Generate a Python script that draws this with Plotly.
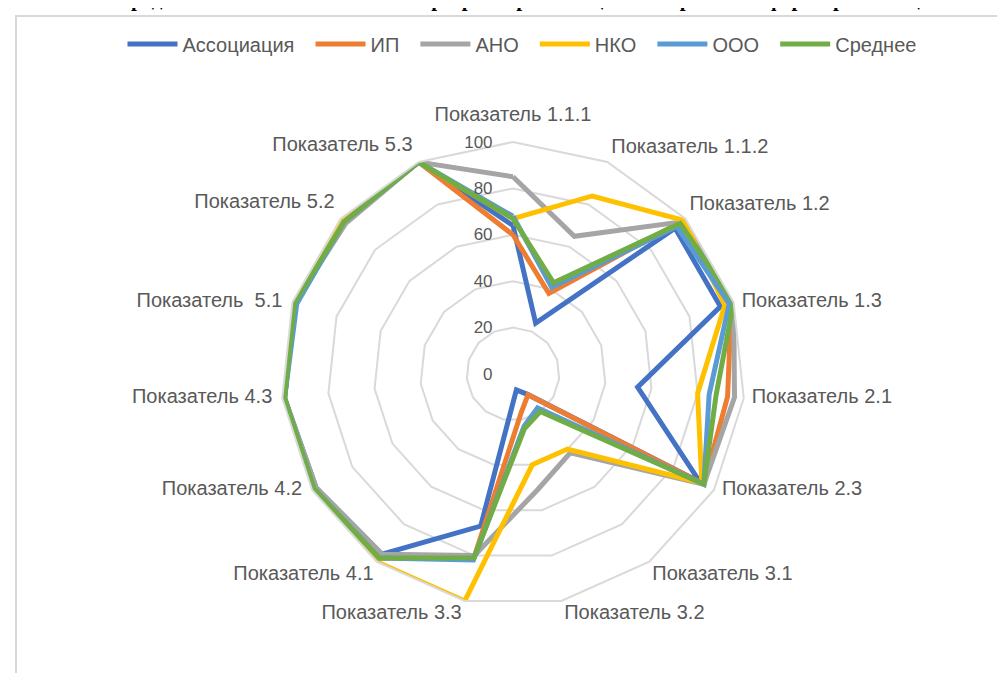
import plotly.graph_objects as go

categories = ["Показатель 1.1.1", "Показатель 1.1.2", "Показатель 1.2", "Показатель 1.3",
              "Показатель 2.1", "Показатель 2.3", "Показатель 3.1", "Показатель 3.2",
              "Показатель 3.3", "Показатель 4.1", "Показатель 4.2", "Показатель 4.3",
              "Показатель\u00a0 5.1", "Показатель 5.2", "Показатель 5.3"]

assoc = [64, 24, 94, 94, 54, 93, 11, 7, 67, 96, 98, 99, 99, 98, 100]
ip    = [60, 38, 99, 99, 93, 95, 11, 17, 81, 98, 99, 99, 99, 98, 100]
ano   = [85, 65, 98, 100, 96, 95, 42, 51, 80, 96, 98, 99, 99, 97, 100]
nko   = [67, 84, 99, 96, 80, 94, 40, 40, 100, 100, 100, 100, 100, 100, 100]
ooo   = [68, 41, 95, 98, 85, 95, 18, 23, 82, 98, 99, 99, 98, 98, 100]
avg   = [67, 43, 97, 100, 88, 95, 20, 24, 81, 98, 99, 99, 99, 98, 100]

series = [("Ассоциация", assoc, "#4472C4"), ("ИП", ip, "#ED7D31"), ("АНО", ano, "#A5A5A5"),
          ("НКО", nko, "#FFC000"), ("ООО", ooo, "#5B9BD5"), ("Среднее", avg, "#70AD47")]

radial_ticks = [0, 20, 40, 60, 80, 100]
RMAX = 100

PAD = "\u00a0\u00a0"
fig = go.Figure()
for i, (name, vals, color) in enumerate(series):
    fig.add_trace(go.Scatterpolar(
        r=vals + [vals[0]], theta=categories + [categories[0]],
        mode="lines", name=name + (PAD if i < len(series) - 1 else ""),
        line=dict(color=color, width=5, shape="linear"),
    ))

# Category labels placed Excel-style next to the outer vertices
n = len(categories)
def label_pos(k):
    a = 360.0 * k / n
    if a == 0:
        return "top center"
    if a < 60:
        return "top right"
    if a < 135:
        return "middle right"
    if a < 180:
        return "bottom right"
    if a <= 225:
        return "bottom left"
    if a < 300:
        return "middle left"
    return "top left"

# label gap (px) from the outer vertex, per placement
label_gap = {"top center": 16, "top right": 4, "top left": 6, "middle right": 8,
             "middle left": 10, "bottom right": 3, "bottom left": 3}
positions = [label_pos(k) for k in range(n)]
gap_sizes = [(label_gap[p] - 1) * 1.6 for p in positions]

fig.add_trace(go.Scatterpolar(
    r=[RMAX] * n, theta=categories, mode="markers+text", text=categories,
    textposition=positions,
    marker=dict(size=gap_sizes, opacity=0, color="white"),
    textfont=dict(size=20, color="#595959", family="Liberation Sans, Arial, sans-serif"),
    showlegend=False, hoverinfo="skip", cliponaxis=False,
))

W, H = 1005, 673
cx, cy, R = 505, 366, 232
fig.update_layout(
    width=W, height=H,
    margin=dict(l=0, r=0, t=0, b=0),
    paper_bgcolor="white", plot_bgcolor="white",
    font=dict(family="Liberation Sans, Arial, sans-serif", color="#595959", size=18),
    polar=dict(
        domain=dict(x=[(cx - R) / W, (cx + R) / W], y=[1 - (cy + R) / H, 1 - (cy - R) / H]),
        bgcolor="white",
        gridshape="linear",
        angularaxis=dict(rotation=90, direction="clockwise", showgrid=False,
                         showline=True, linecolor="#d9d9d9", linewidth=2,
                         ticks="", showticklabels=False),
        radialaxis=dict(range=[0, RMAX], tickvals=radial_ticks, angle=90, tickangle=90,
                        showline=False, ticks="outside", ticklen=14, tickcolor="rgba(0,0,0,0)",
                        gridcolor="#d9d9d9", gridwidth=2,
                        tickfont=dict(size=17, color="#595959"), side="counterclockwise"),
    ),
    legend=dict(orientation="h", x=514 / W, xanchor="center", y=1 - 36 / H, yanchor="middle",
                font=dict(size=20, color="#595959"), itemwidth=50, tracegroupgap=0),
    shapes=[dict(type="rect", xref="paper", yref="paper", x0=8 / W, x1=1.02,
                 y0=-0.02, y1=1 - 8 / H, line=dict(color="#d9d9d9", width=2))],
    annotations=[dict(text="<b>Рис. 3. Средние значения показателей в разрезе организационно-правовых форм организаций</b>",
                      xref="paper", yref="paper", x=40 / W, xanchor="left", y=1 + 9 / H, yanchor="middle",
                      showarrow=False, font=dict(family="Liberation Serif, serif", size=21, color="black"))],
)

fig.write_html("out.html")
